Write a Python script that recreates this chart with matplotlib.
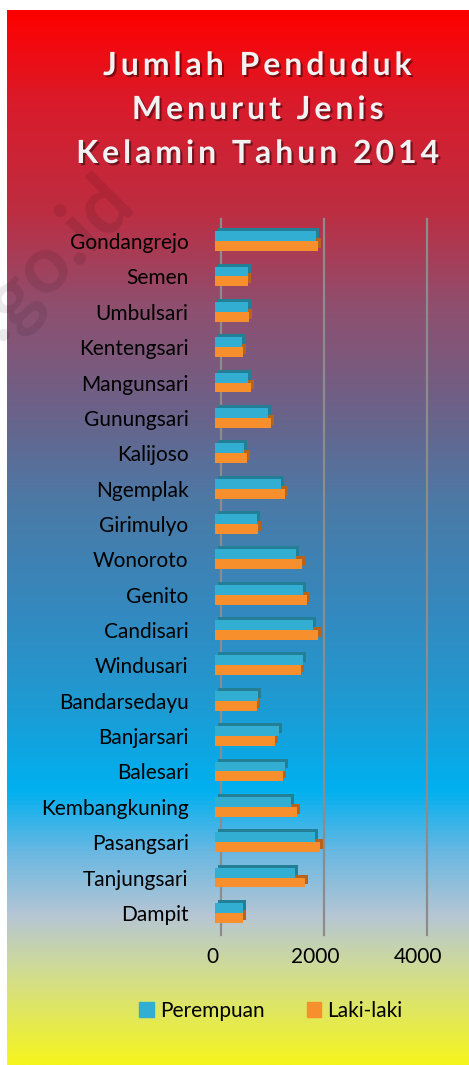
import numpy as np
import matplotlib
matplotlib.use("Agg")
import matplotlib.pyplot as plt
import matplotlib.patheffects as pe
from matplotlib.colors import LinearSegmentedColormap
from matplotlib.patches import Patch
from matplotlib.transforms import ScaledTranslation

desa = ["Gondangrejo", "Semen", "Umbulsari", "Kentengsari", "Mangunsari",
        "Gunungsari", "Kalijoso", "Ngemplak", "Girimulyo", "Wonoroto",
        "Genito", "Candisari", "Windusari", "Bandarsedayu", "Banjarsari",
        "Balesari", "Kembangkuning", "Pasangsari", "Tanjungsari", "Dampit"]
perempuan = [1960, 650, 635, 525, 635, 1025, 565, 1275, 810, 1575,
             1715, 1910, 1705, 830, 1250, 1365, 1475, 1940, 1555, 540]
laki_laki = [1995, 650, 660, 550, 705, 1080, 615, 1365, 830, 1685,
             1780, 1995, 1675, 825, 1160, 1325, 1585, 2040, 1750, 550]
xticks = [0, 2000, 4000]

W, H = 469, 1065
fig = plt.figure(figsize=(W / 100, H / 100), dpi=100)
fig.patch.set_facecolor("white")

# background gradient
bg_stops = [(0.00, "#ff0000"), (0.09, "#d81c2c"), (0.19, "#bd2d41"),
            (0.28, "#8f4f6f"), (0.38, "#6b6289"), (0.47, "#4a7aa7"),
            (0.57, "#3489bf"), (0.66, "#1e9bd3"), (0.74, "#00b0f0"),
            (0.80, "#6ab8e2"), (0.86, "#b6c6d4"), (0.91, "#cfdb96"),
            (1.00, "#f5f51e")]
cmap = LinearSegmentedColormap.from_list("bg", bg_stops)
bg = fig.add_axes([7 / W, 0, 1 - 7 / W, 1 - 10 / H], zorder=-10)
bg.imshow(np.linspace(0, 1, 512).reshape(-1, 1), aspect="auto", cmap=cmap,
          extent=[0, 1, 0, 1])
bg.axis("off")

# watermark
fig.text(136 / W, 1 - 205 / H, "bps.go.id", rotation=45, rotation_mode="anchor",
         ha="right", va="baseline", fontsize=58, fontweight="bold",
         family="Lato", color="black", alpha=0.09)

# title
title_lines = ["Jumlah Penduduk", "Menurut Jenis", "Kelamin Tahun 2014"]
for i, line in enumerate(title_lines):
    spaced = "\u2009".join(line)
    fig.text(258 / W, 1 - (65.5 + i * 44) / H, spaced, ha="center", va="center",
             fontsize=23, fontweight="bold", color="#f2f2f2",
             family=["Lato", "DejaVu Sans"],
             path_effects=[pe.withSimplePatchShadow(offset=(1.5, -1.5),
                                                    shadow_rgbFace="black", alpha=0.45)])

ax = fig.add_axes([215 / W, 1 - 930.6 / H, 206 / W, (930.6 - 223.4) / H])
ax.patch.set_alpha(0)
n = len(desa)
y = np.arange(n)
h = 0.28

# gridlines drawn on the back wall
grid_c = "#8c8c8c"
back = ax.transData + ScaledTranslation(5.5 / 100, 6 / 100, fig.dpi_scale_trans)
for xv in xticks:
    ax.plot([xv, xv], [-0.45, n - 0.2], color=grid_c, lw=1.6,
            transform=back, clip_on=False, zorder=1)
# feet of the gridlines
for xv in xticks:
    p0 = back.transform((xv, n - 0.2))
    p1 = p0 + np.array([-8.5, -8])
    fig.add_artist(plt.Line2D([p0[0] / W, p1[0] / W], [p0[1] / H, p1[1] / H],
                              color=grid_c, lw=1.6))

depth = ax.transData + ScaledTranslation(3 / 100, 3 / 100, fig.dpi_scale_trans)
yb = y - h / 2
yo = y + h / 2
ax.barh(yo, laki_laki, height=h, color="#b8621a", transform=depth, zorder=2, clip_on=False)
ax.barh(yo, laki_laki, height=h, color="#f7902c", zorder=3, clip_on=False)
ax.barh(yb, perempuan, height=h, color="#237f96", transform=depth, zorder=4, clip_on=False)
ax.barh(yb, perempuan, height=h, color="#31aed2", zorder=5, clip_on=False)

ax.set_ylim(n - 0.5, -0.5)
ax.set_xlim(0, 4000)
ax.set_yticks(y)
ax.set_yticklabels(desa, family="Lato", fontsize=15, color="black")
ax.set_xticks(xticks)
ax.set_xticklabels([str(v) for v in xticks], family="Lato", fontsize=15, color="black")
ax.tick_params(axis="y", length=0, pad=19)
ax.tick_params(axis="x", length=0, pad=12)
shift = ScaledTranslation(-3 / 100, 0, fig.dpi_scale_trans)
for lab in ax.get_xticklabels():
    lab.set_transform(lab.get_transform() + shift)
for s in ax.spines.values():
    s.set_visible(False)

handles = [Patch(color="#31aed2", label="Perempuan"),
           Patch(color="#f7902c", label="Laki-laki")]
fig.legend(handles=handles, loc="center", bbox_to_anchor=(271 / W, 1 - 1011 / H),
           ncol=2, frameon=False, prop={"family": "Lato", "size": 15},
           handlelength=0.7, handleheight=0.7, handletextpad=0.3, columnspacing=2.0)

fig.savefig("out.png", dpi=100)
